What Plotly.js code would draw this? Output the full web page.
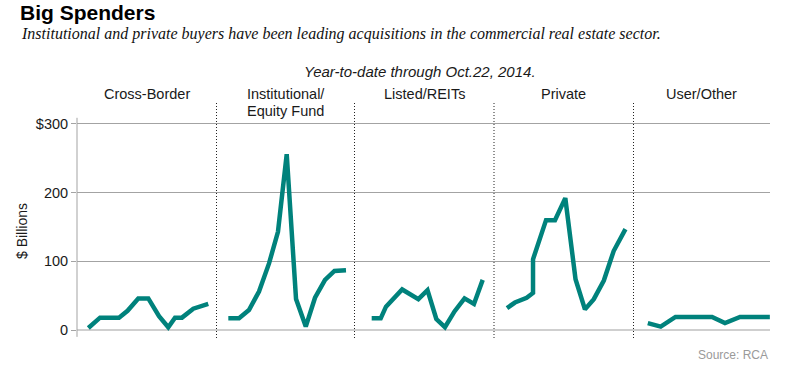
<!DOCTYPE html>
<html><head><meta charset="utf-8">
<script src="https://cdn.plot.ly/plotly-3.0.1.min.js"></script>
<style>html,body{margin:0;padding:0;background:#fff}#chart{width:800px;height:375px}</style>
</head><body><div id="chart"></div>
<script>
// Panel categories
const categories = ["Cross-Border", "Institutional/<br>Equity Fund", "Listed/REITs", "Private", "User/Other"];

// Series (x = time, y = $ billions)
const crossX = [2001.14, 2002.32, 2004.23, 2005.09, 2006.17, 2007.18, 2008.26, 2009.19, 2009.87, 2010.57, 2011.71, 2013.22];
const crossV = [3, 18, 18, 28, 46, 46, 20, 4, 18, 18, 31, 38];

const instX = [2001.19, 2002.27, 2003.27, 2004.28, 2005.29, 2006.19, 2007.07, 2008.01, 2008.99, 2009.92, 2010.93, 2011.88, 2013.04];
const instV = [17, 17, 29, 56, 97, 143, 256, 45, 5, 47, 73, 86, 87];

const listedX = [2001.73, 2002.64, 2003.17, 2004.80, 2006.43, 2007.35, 2008.24, 2009.11, 2010.07, 2011.08, 2012.03, 2012.91];
const listedV = [17, 17, 34, 59, 45, 58, 16, 4, 27, 46, 38, 73];

const privX = [2001.31, 2002.11, 2003.29, 2003.93, 2003.93, 2005.24, 2006.14, 2007.18, 2008.21, 2009.16, 2010.05, 2011.06, 2012.05, 2013.24];
const privV = [32, 40, 47, 54, 103, 160, 160, 192, 74, 30, 45, 72, 115, 147];

const userX = [2001.44, 2002.74, 2004.23, 2007.91, 2009.21, 2010.73, 2013.73];
const userV = [10, 5, 19, 19, 10, 19, 19];

// Y-axis ticks
const tickVals = [0, 100, 200, 300];
const tickText = ["0", "100", "200", "$300"];

const seriesX = [crossX, instX, listedX, privX, userX];
const seriesV = [crossV, instV, listedV, privV, userV];

// layout helpers (pixel -> paper)
const L = 77, R = 770, T = 103, B = 338;
const W = R - L, H = B - T;
const px = x => (x - L) / W;
const py = y => (B - y) / H;

const bounds = [77, 216.5, 354.5, 494, 633.5, 770];
const pxPerYear = 9.93;
const TEAL = '#00827c';
const FONT = 'Liberation Sans, Arial, sans-serif';

const traces = [];
const layout = {
  width: 800, height: 375,
  margin: {l: L, r: 800 - R, t: T, b: 375 - B, pad: 0},
  paper_bgcolor: '#fff', plot_bgcolor: 'rgba(0,0,0,0)',
  showlegend: false,
  font: {family: FONT, size: 14, color: '#1a1a1a'},
  title: {
    text: '<b>Big Spenders</b>',
    font: {family: FONT, size: 21, color: '#000'},
    xref: 'container', yref: 'container',
    x: 20 / 800, xanchor: 'left',
    y: 1 - 13 / 375, yanchor: 'middle'
  },
  yaxis: {
    anchor: 'x', domain: [0, 1],
    range: [-(B - 330) / 0.6867, (330 - T) / 0.6867],
    tickvals: tickVals, ticktext: tickText,
    showgrid: true, gridcolor: '#a3a3a3', gridwidth: 1,
    zeroline: true, zerolinecolor: '#cfcfcf', zerolinewidth: 2,
    ticks: 'outside', ticklen: 5, tickcolor: '#a3a3a3',
    showline: false,
    tickfont: {family: FONT, size: 14.5, color: '#1a1a1a'},
    fixedrange: true
  },
  shapes: [],
  annotations: []
};

for (let i = 0; i < 5; i++) {
  const xa = i === 0 ? 'x' : 'x' + (i + 1);
  const key = i === 0 ? 'xaxis' : 'xaxis' + (i + 1);
  const w = bounds[i + 1] - bounds[i];
  layout[key] = {
    domain: [px(bounds[i]), px(bounds[i + 1])],
    range: [2000, 2000 + w / pxPerYear],
    anchor: 'y', visible: false, showgrid: false, zeroline: false, fixedrange: true
  };
  traces.push({
    type: 'scatter', mode: 'lines',
    x: seriesX[i], y: seriesV[i],
    xaxis: xa, yaxis: 'y',
    line: {color: TEAL, width: 4.5},
    hoverinfo: 'skip'
  });
  if (i > 0) {
    layout.shapes.push({
      type: 'line', xref: 'paper', yref: 'paper',
      x0: px(bounds[i]), x1: px(bounds[i]), y0: 0, y1: 1,
      line: {color: '#222', width: 1, dash: '1px,2px'}
    });
  }
  const lines = categories[i].split('<br>');
  lines.forEach((t, j) => {
    layout.annotations.push({
      text: t, xref: 'paper', yref: 'paper',
      x: px((bounds[i] + bounds[i + 1]) / 2), y: py(94.5 + 16 * j),
      xanchor: 'center', yanchor: 'middle', showarrow: false,
      font: {family: FONT, size: 14.5, color: '#1a1a1a'}
    });
  });
}

// y axis line
layout.shapes.push({
  type: 'line', xref: 'paper', yref: 'y',
  x0: 0, x1: 0, y0: -10, y1: 309,
  line: {color: '#a3a3a3', width: 1}
});

layout.annotations.push(
  {
    text: '<i>Institutional and private buyers have been leading acquisitions in the commercial real estate sector.</i>',
    xref: 'paper', yref: 'paper', x: px(19), y: py(34),
    xanchor: 'left', yanchor: 'middle', showarrow: false,
    font: {family: 'Liberation Serif, Times New Roman, serif', size: 16, color: '#111'}
  },
  {
    text: '<i>Year-to-date through Oct.22, 2014.</i>',
    xref: 'paper', yref: 'paper', x: px(420), y: py(72),
    xanchor: 'center', yanchor: 'middle', showarrow: false,
    font: {family: FONT, size: 15, color: '#1a1a1a'}
  },
  {
    text: '$ Billions',
    xref: 'paper', yref: 'paper', x: px(22), y: py(231),
    xanchor: 'center', yanchor: 'middle', showarrow: false, textangle: -90,
    font: {family: FONT, size: 14, color: '#1a1a1a'}
  },
  {
    text: 'Source: RCA',
    xref: 'paper', yref: 'paper', x: px(770), y: py(355),
    xanchor: 'right', yanchor: 'middle', showarrow: false,
    font: {family: FONT, size: 12, color: '#9a9a9a'}
  }
);

Plotly.newPlot('chart', traces, layout, {staticPlot: true, displayModeBar: false});
</script>
</body></html>
